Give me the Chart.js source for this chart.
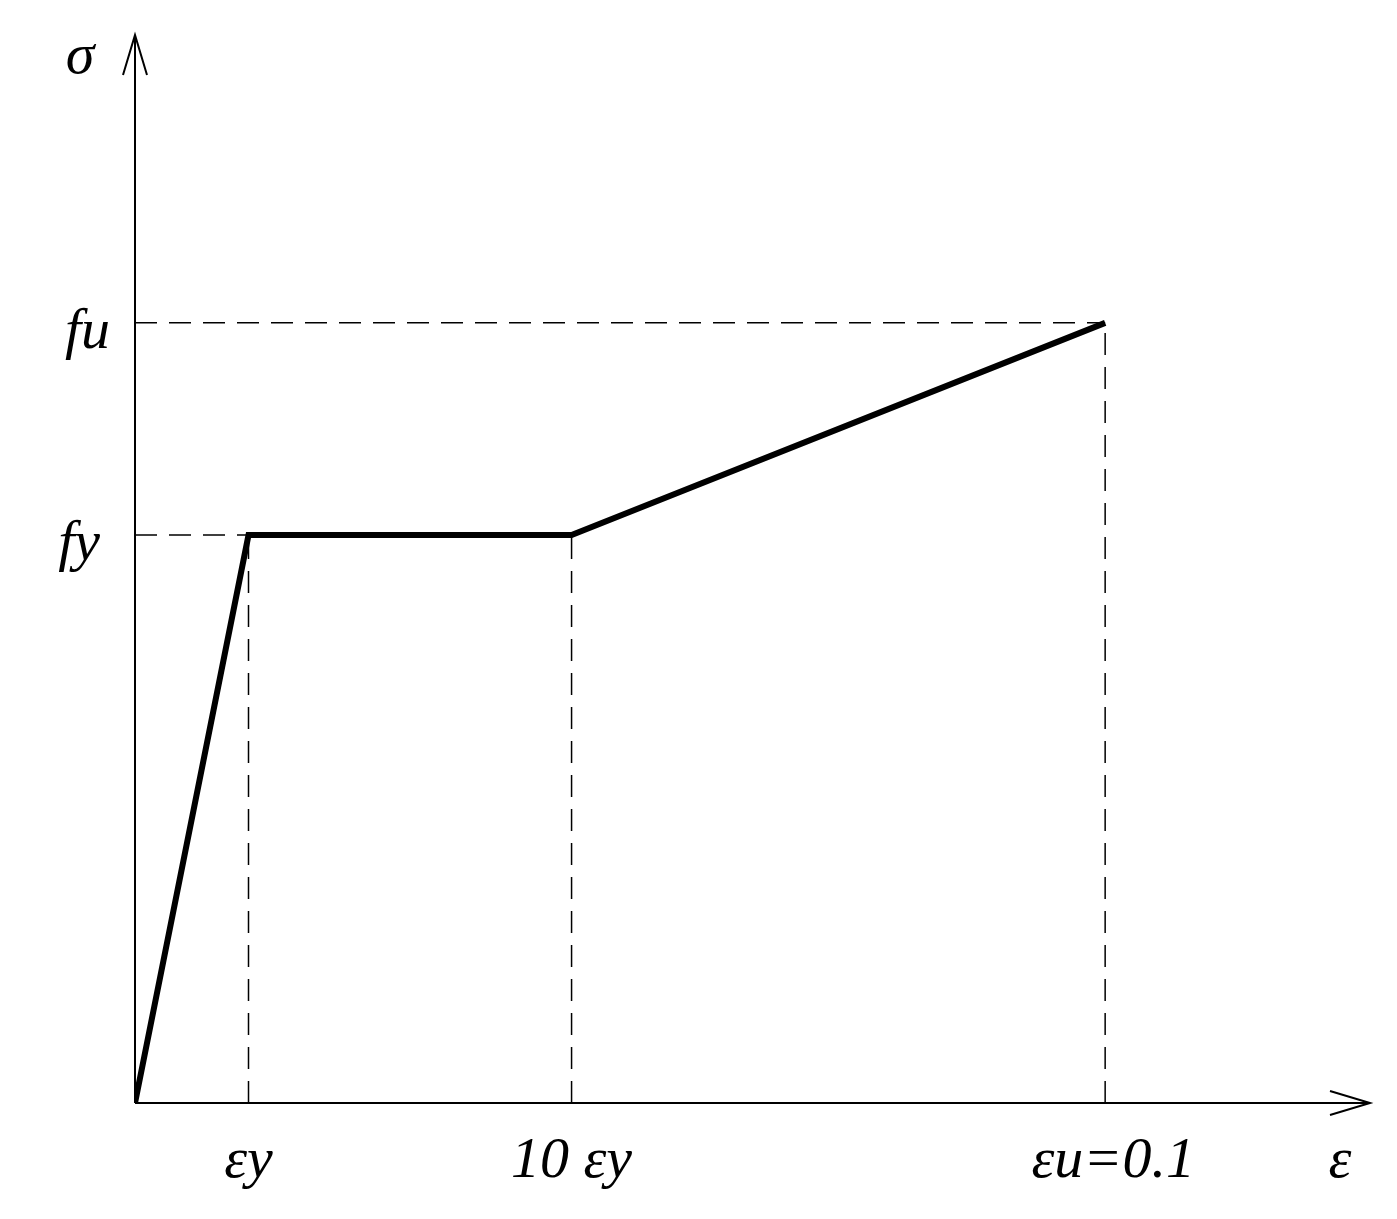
<!DOCTYPE html>
<html>
<head>
<meta charset="utf-8">
<script src="https://cdn.jsdelivr.net/npm/chart.js@4"></script>
<style>
  body { margin: 0; background: #fff; }
  #wrap { width: 1397px; height: 1219px; }
</style>
</head>
<body>
<div id="wrap"><canvas id="ssChart"></canvas></div>
<script>
// strain / stress values (fu = 1, eu = 0.1)
const strain = [0, 0.0117, 0.045, 0.1];
const stress = [0, 0.728, 0.728, 1];
const xMax = 0.1273;
const yMax = 1.369;
const xTickLabels = ['εy', '10 εy', 'εu=0.1'];
const yTickLabels = ['fy', 'fu'];

// dashed guide lines
const guides = [
  [{x: 0, y: stress[1]}, {x: strain[1], y: stress[1]}],
  [{x: 0, y: stress[3]}, {x: strain[3], y: stress[3]}],
  [{x: strain[1], y: 0}, {x: strain[1], y: stress[1]}],
  [{x: strain[2], y: 0}, {x: strain[2], y: stress[2]}],
  [{x: strain[3], y: 0}, {x: strain[3], y: stress[3]}]
];

const axesPlugin = {
  id: 'axesPlugin',
  afterDatasetsDraw(chart) {
    const ctx = chart.ctx;
    const xs = chart.scales.x, ys = chart.scales.y;
    const x0 = xs.getPixelForValue(0), y0 = ys.getPixelForValue(0);
    const xe = xs.getPixelForValue(xMax), ye = ys.getPixelForValue(yMax);
    ctx.save();
    ctx.strokeStyle = '#000';
    ctx.lineWidth = 2;
    ctx.beginPath();
    ctx.moveTo(x0, y0); ctx.lineTo(xe, y0);
    ctx.moveTo(x0, y0); ctx.lineTo(x0, ye);
    // arrow heads
    ctx.moveTo(xe - 40, y0 - 12); ctx.lineTo(xe, y0); ctx.lineTo(xe - 40, y0 + 12);
    ctx.moveTo(x0 - 12, ye + 40); ctx.lineTo(x0, ye); ctx.lineTo(x0 + 12, ye + 40);
    ctx.stroke();

    ctx.fillStyle = '#000';
    ctx.font = 'italic 58px "Liberation Serif", "DejaVu Serif", serif';
    ctx.textBaseline = 'middle';
    ctx.textAlign = 'center';
    ctx.fillText('σ', 80, 58);
    ctx.fillText('ε', 1340, 1162);
    xTickLabels.forEach((t, i) => {
      ctx.fillText(t, xs.getPixelForValue(strain[i + 1]) + (i === 2 ? 8 : 0), 1162);
    });
    ctx.textAlign = 'right';
    ctx.fillText(yTickLabels[0], 100, ys.getPixelForValue(stress[1]) + 10);
    ctx.fillText(yTickLabels[1], 110, ys.getPixelForValue(stress[3]) + 10);
    ctx.restore();
  }
};

const datasets = guides.map(g => ({
  data: g,
  borderColor: '#000',
  borderWidth: 1.5,
  borderDash: [22, 12],
  pointRadius: 0
}));
datasets.push({
  data: strain.map((s, i) => ({x: s, y: stress[i]})),
  borderColor: '#000',
  borderWidth: 6,
  pointRadius: 0,
  tension: 0
});

new Chart(document.getElementById('ssChart').getContext('2d'), {
  type: 'line',
  data: { datasets: datasets },
  options: {
    responsive: true,
    maintainAspectRatio: false,
    animation: false,
    layout: { padding: { left: 135, right: 27, top: 35, bottom: 116 } },
    plugins: { legend: { display: false }, tooltip: { enabled: false } },
    scales: {
      x: { type: 'linear', min: 0, max: xMax, display: false },
      y: { type: 'linear', min: 0, max: yMax, display: false }
    }
  },
  plugins: [axesPlugin]
});
</script>
</body>
</html>
